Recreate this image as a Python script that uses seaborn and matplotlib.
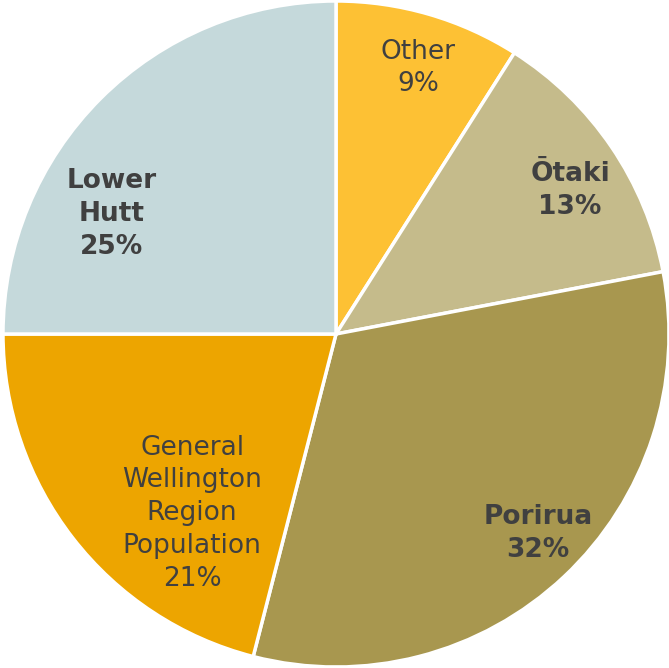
import matplotlib
matplotlib.use("Agg")
import matplotlib.pyplot as plt
import seaborn as sns

sns.set_style("white")
plt.rcParams['font.family'] = ['DejaVu Sans']

categories = ["Other", "Ōtaki", "Porirua", "General\nWellington\nRegion\nPopulation", "Lower\nHutt"]
values = [9, 13, 32, 21, 25]
colors = ["#FDC134", "#C5BB8B", "#A8974F", "#EDA500", "#C5D9DB"]
bold = [False, True, True, False, True]
label_pos = [(0.246, 0.799), (0.703, 0.432), (0.607, -0.598), (-0.432, -0.538), (-0.673, 0.360)]

fig = plt.figure(figsize=(6.69, 6.68), dpi=100)
ax = fig.add_axes([3/669, 1/668, 666/669, 666/668])
wedges, _ = ax.pie(values, colors=colors, startangle=90, counterclock=False,
                   radius=1.0, wedgeprops=dict(edgecolor="white", linewidth=2.5))
total = sum(values)
for cat, v, b, (x, y) in zip(categories, values, bold, label_pos):
    ax.text(x, y, f"{cat}\n{round(100*v/total)}%", ha="center", va="center",
            fontsize=19, color="#404040", fontweight="bold" if b else "normal",
            linespacing=1.34)
ax.set_xlim(-1.0, 1.0)
ax.set_ylim(-1.0, 1.0)
ax.set_aspect("equal")
ax.axis("off")
fig.savefig("out.png", dpi=100)
